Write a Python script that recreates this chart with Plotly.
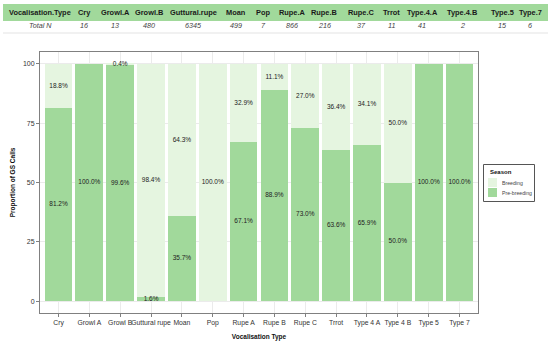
import plotly.graph_objects as go

# ---- data ----
table_cols = ["Cry", "Growl.A", "Growl.B", "Guttural.rupe", "Moan", "Pop", "Rupe.A",
              "Rupe.B", "Rupe.C", "Trrot", "Type.4.A", "Type.4.B", "Type.5", "Type.7"]
total_n = [16, 13, 480, 6345, 499, 7, 866, 216, 37, 11, 41, 2, 15, 6]
categories = ["Cry", "Growl A", "Growl B", "Guttural rupe", "Moan", "Pop", "Rupe A",
              "Rupe B", "Rupe C", "Trrot", "Type 4 A", "Type 4 B", "Type 5", "Type 7"]
pre_breeding = [81.2, 100.0, 99.6, 1.6, 35.7, 0.0, 67.1, 88.9, 73.0, 63.6, 65.9, 50.0, 100.0, 100.0]
breeding = [18.8, 0.0, 0.4, 98.4, 64.3, 100.0, 32.9, 11.1, 27.0, 36.4, 34.1, 50.0, 0.0, 0.0]
season_names = ["Breeding", "Pre-breeding"]
y_ticks = [0, 25, 50, 75, 100]

# table column centre positions (pixels) in 550px wide page
col_px = [84, 115, 149, 193, 236, 263, 292, 324, 361, 391, 422, 462, 502, 530]

COL_PRE = "#a1d99b"
COL_BRE = "#e5f5e0"
W, H = 550, 345
L, R, T, B = 40, 72, 52, 32

fig = go.Figure()
x = list(range(len(categories)))
fig.add_trace(go.Bar(x=x, y=pre_breeding, name=season_names[1], marker=dict(color=COL_PRE, line=dict(width=0)),
                     width=0.9, hoverinfo="skip", showlegend=False))
fig.add_trace(go.Bar(x=x, y=breeding, name=season_names[0], marker=dict(color=COL_BRE, line=dict(width=0)),
                     width=0.9, hoverinfo="skip", showlegend=False))

# labels at segment midpoints
lx, ly, lt = [], [], []
for i, (p, b) in enumerate(zip(pre_breeding, breeding)):
    if p > 0:
        lx.append(i); ly.append(p / 2); lt.append(f"{p:.1f}%")
    if b > 0:
        lx.append(i); ly.append(p + b / 2); lt.append(f"{b:.1f}%")
fig.add_trace(go.Scatter(x=lx, y=ly, text=lt, mode="text", showlegend=False,
                         textfont=dict(size=6.5, color="#222222", family="Liberation Sans"),
                         hoverinfo="skip", cliponaxis=False))

# ---- pixel -> paper helpers ----
def px2paper_x(px):
    return (px - L) / (W - L - R)

def py2paper_y(py):
    return (H - B - py) / (H - T - B)

def rect(x0, y0, x1, y1, fill, line=None):
    return dict(type="rect", xref="paper", yref="paper",
                x0=px2paper_x(x0), x1=px2paper_x(x1), y0=py2paper_y(y1), y1=py2paper_y(y0),
                fillcolor=fill, line=line or dict(width=0), layer="above")

def text(t, px, py, font, xanchor="center"):
    return dict(text=t, x=px2paper_x(px), y=py2paper_y(py), xref="paper", yref="paper",
                showarrow=False, xanchor=xanchor, yanchor="middle", font=font)

shapes = [
    rect(3, 4, 548, 21, COL_PRE),
    dict(type="line", xref="paper", yref="paper",
         x0=px2paper_x(3), x1=px2paper_x(548), y0=py2paper_y(33), y1=py2paper_y(33),
         line=dict(color="#e3e3e3", width=1)),
]
annotations = []
HF = dict(size=7.4, color="#1a1a1a", family="Liberation Sans")
NF = dict(size=7.2, color="#444444", family="Liberation Sans")
annotations.append(text("<b>Vocalisation.Type</b>", 40, 12.5, HF))
annotations.append(text("<i>Total N</i>", 40, 25.5, NF))
for c, n, cx in zip(table_cols, total_n, col_px):
    annotations.append(text(f"<b>{c}</b>", cx, 12.5, HF))
    annotations.append(text(f"<i>{n}</i>", cx, 25.5, NF))

# ---- legend (drawn) ----
shapes.append(rect(483.5, 164.5, 534.5, 201.5, "rgba(0,0,0,0)", dict(color="#555555", width=1)))
shapes.append(rect(488, 178, 497, 187, COL_BRE))
shapes.append(rect(488, 188, 497, 197, COL_PRE))
annotations.append(text("<b>Season</b>", 488, 171.5, dict(size=6, color="#111111", family="Liberation Sans"), "left"))
annotations.append(text(season_names[0], 500, 182.5, dict(size=5.2, color="#444444", family="Liberation Sans"), "left"))
annotations.append(text(season_names[1], 500, 192.5, dict(size=5.2, color="#444444", family="Liberation Sans"), "left"))

fig.update_layout(
    width=W, height=H,
    margin=dict(l=L, r=R, t=T, b=B, autoexpand=False),
    barmode="stack",
    bargap=0.1,
    paper_bgcolor="white",
    plot_bgcolor="white",
    font=dict(family="Liberation Sans", size=7, color="#333333"),
    shapes=shapes,
    annotations=annotations,
    showlegend=False,
    xaxis=dict(
        tickmode="array", tickvals=x, ticktext=categories,
        range=[-0.6, len(categories) - 0.4],
        tickangle=0, automargin=False,
        showline=True, mirror=True, linecolor="#808080", linewidth=1,
        ticks="outside", ticklen=3, tickcolor="#808080",
        showgrid=True, gridcolor="#ebebeb", gridwidth=1,
        tickfont=dict(size=6.8, color="#333333"),
        title=dict(text="<b>Vocalisation Type</b>", font=dict(size=6.5, color="#111111"), standoff=8),
        zeroline=False,
    ),
    yaxis=dict(
        tickmode="array", tickvals=y_ticks,
        range=[-5, 105], automargin=False,
        showline=True, mirror=True, linecolor="#808080", linewidth=1,
        ticks="outside", ticklen=3, tickcolor="#808080",
        showgrid=True, gridcolor="#ebebeb", gridwidth=1,
        tickfont=dict(size=7, color="#333333"),
        title=dict(text="<b>Proportion of GS Calls</b>", font=dict(size=6.5, color="#111111"), standoff=6),
        zeroline=False,
    ),
)

fig.write_html("out.html", post_script="document.body.style.margin='0';",
               config={"displayModeBar": False})
